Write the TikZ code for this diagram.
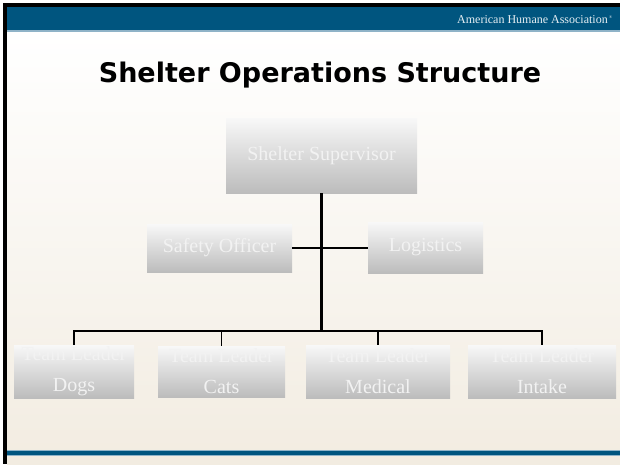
\documentclass[tikz,border=0pt]{standalone}
\usepackage{fontspec}
\setmainfont{Liberation Serif}
\newfontfamily\titlefont{DejaVu Sans}
\definecolor{bandblue}{HTML}{00557F}
\definecolor{edgeblue}{HTML}{8FB3C8}
\definecolor{bgbeige}{HTML}{F2ECE1}
\definecolor{boxtop}{HTML}{F8F8F8}
\definecolor{boxbot}{HTML}{BCBCBC}
\definecolor{boxtext}{HTML}{F2F2F2}
\definecolor{headtext}{HTML}{E6EEF3}
\tikzset{
  orgbox/.style={shade, top color=boxtop, bottom color=boxbot, draw=none,
    text=boxtext, inner sep=0pt, align=center,
    font=\fontsize{20}{31}\selectfont},
  trunkline/.style={line width=3pt, black},
  linkline/.style={line width=1.6pt, black},
}
\begin{document}
\begin{tikzpicture}[x=1pt,y=-1pt]
\useasboundingbox (0,0) rectangle (620,464);
\fill[white] (0,0) rectangle (620,464);
% background
\shade[top color=white, bottom color=bgbeige] (7,32) rectangle (620,464);
% header band
\fill[bandblue] (7,7) rectangle (620,30);
\fill[edgeblue] (7,30) rectangle (620,32);
\fill[black] (3,3) rectangle (620,7);
\fill[black] (3,3) rectangle (7,464);
\node[anchor=base east, inner sep=0pt, text=headtext, font=\fontsize{12}{14}\selectfont] (org) at (608,23) {American Humane Association};
\node[anchor=base west, inner sep=0pt, text=headtext, font=\fontsize{4}{5}\selectfont] (tm) at (609,18) {®};
% bottom line
\fill[edgeblue] (7,450) rectangle (620,456);
\fill[bandblue] (7,451.2) rectangle (620,454.8);
% title
\node[anchor=base, inner sep=0pt, font=\titlefont\bfseries\fontsize{27}{32}\selectfont] (title) at (320,82) {Shelter Operations Structure};
% boxes
\node[orgbox, minimum width=191pt, minimum height=75pt] (sup) at (321.5,155.5) {Shelter Supervisor};
\node[orgbox, minimum width=145pt, minimum height=48pt] (safety) at (219.5,248) {Safety Officer};
\node[orgbox, minimum width=115pt, minimum height=51pt] (log) at (425.5,247.5) {Logistics};
\node[orgbox, minimum width=120pt, minimum height=53pt] (dogs) at (74,371.5) {Team Leader\\Dogs};
\node[orgbox, minimum width=127pt, minimum height=51pt] (cats) at (221.5,371.5) {Team Leader\\Cats};
\node[orgbox, minimum width=144pt, minimum height=53pt] (med) at (378,371.5) {Team Leader\\Medical};
\node[orgbox, minimum width=148pt, minimum height=53pt] (intake) at (542,371.5) {Team Leader\\Intake};
% connectors
\coordinate (bus) at (321.5,331);
\draw[linkline] (safety.east) -- (safety.east -| log.west);
\draw[trunkline] (sup.south) -- (bus);
\draw[linkline] (dogs.north) |- (intake.north |- bus) -- (intake.north);
\draw[linkline] (cats.north) -- (cats.north |- bus);
\draw[linkline] (med.north) -- (med.north |- bus);
\end{tikzpicture}
\end{document}
